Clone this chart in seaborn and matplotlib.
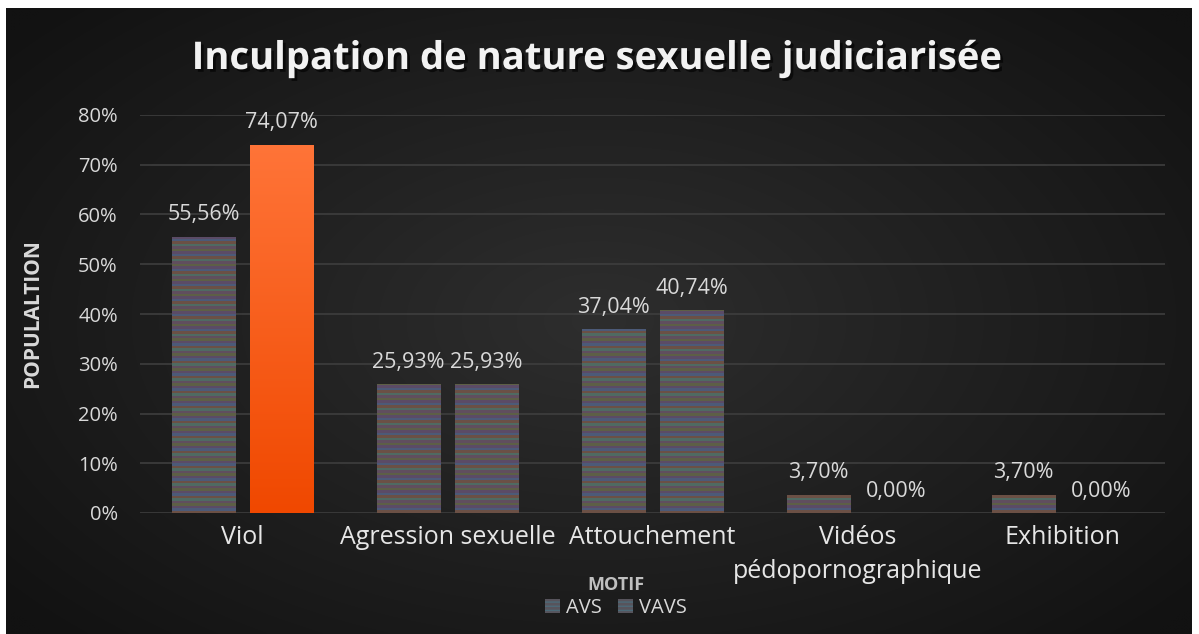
import numpy as np
import pandas as pd
import matplotlib
matplotlib.use("Agg")
import matplotlib.pyplot as plt
import matplotlib.patheffects as pe
from matplotlib.patches import Patch
import seaborn as sns

# ---- data ----
categories = ["Viol", "Agression sexuelle", "Attouchement", "Vidéos\npédopornographique", "Exhibition"]
avs = [55.56, 25.93, 37.04, 3.70, 3.70]
vavs = [74.07, 25.93, 40.74, 0.00, 0.00]
series = ["AVS", "VAVS"]
yticks = [0, 10, 20, 30, 40, 50, 60, 70, 80]
title = "Inculpation de nature sexuelle judiciarisée"
ylabel = "POPULALTION"
legend_title = "MOTIF"

df = pd.DataFrame({
    "cat": categories * 2,
    "val": avs + vavs,
    "serie": [series[0]] * len(categories) + [series[1]] * len(categories),
})

sns.set_style("dark")
plt.rcParams["font.family"] = ["Open Sans", "DejaVu Sans"]

W, H = 1199, 634
fig = plt.figure(figsize=(W / 100, H / 100), dpi=100, facecolor="white")

# background panel with radial gradient
bg = fig.add_axes([6 / W, 0, (1192 - 6) / W, (H - 8) / H])
bg.set_axis_off()
yy, xx = np.mgrid[-1:1:300j, -1:1:600j]
r = np.sqrt((xx / 1.0) ** 2 + (yy / 1.1) ** 2)
r = np.clip(r / 1.3, 0, 1)
c_center = np.array([0x2e, 0x2e, 0x2e]) / 255
c_edge = np.array([0x12, 0x12, 0x12]) / 255
img = c_center[None, None, :] * (1 - r[..., None]) + c_edge[None, None, :] * r[..., None]
bg.imshow(img, aspect="auto", extent=[0, 1, 0, 1], interpolation="bilinear")
bg.set_xlim(0, 1)
bg.set_ylim(0, 1)

ax = fig.add_axes([140 / W, 121 / H, 1025 / W, 398 / H])
ax.set_facecolor("none")

sns.barplot(data=df, x="cat", y="val", hue="serie", ax=ax, width=0.76, gap=0.18,
            palette=["#57545c", "#57545c"], legend=False, linewidth=0, saturation=1)

ax.set_xlim(-0.5, len(categories) - 0.5)
ax.set_ylim(0, 80)
ax.set_yticks(yticks)
ax.set_yticklabels([f"{t}%" for t in yticks])
ax.grid(axis="y", color="#3e3e3e", linewidth=1.2)
ax.grid(axis="x", visible=False)
ax.set_axisbelow(True)
for s in ax.spines.values():
    s.set_visible(False)
ax.tick_params(axis="y", length=0, pad=16, labelsize=14.5, labelcolor="#d9d9d9")
ax.tick_params(axis="x", length=0, pad=9, labelsize=18, labelcolor="#e6e6e6")
for lab in ax.get_xticklabels():
    lab.set_linespacing(1.45)
ax.set_xlabel("")
ax.set_ylabel(ylabel, fontsize=15, fontweight="bold", color="#d9d9d9")
ax.yaxis.set_label_coords(-0.095, 0.5)

# stripe texture
stripe_cols = np.array([
    [0x5d, 0x5f, 0x46], [0x5b, 0x4b, 0x66], [0x4c, 0x5a, 0x78],
    [0x6b, 0x50, 0x45], [0x4f, 0x6a, 0x62], [0x60, 0x4e, 0x5e],
]) / 255
nrows = 160
stripes = np.array([stripe_cols[i % len(stripe_cols)] for i in range(nrows)])[:, None, :]
yy2 = np.linspace(0, 1, 200)[:, None]
top_c = np.array([0xff, 0x74, 0x38]) / 255
bot_c = np.array([0xf0, 0x48, 0x00]) / 255
orange = (top_c * (1 - yy2) + bot_c * yy2)[:, None, :].reshape(200, 1, 3)

max_val = max(max(avs), max(vavs))
for cont, vals in zip(ax.containers, [avs, vavs]):
    for patch, v in zip(cont, vals):
        x0 = patch.get_x()
        w = patch.get_width()
        if v > 0:
            if v == max_val:
                im = ax.imshow(orange, extent=[x0, x0 + w, 0, v], aspect="auto",
                               interpolation="bilinear", zorder=2)
            else:
                im = ax.imshow(stripes, extent=[x0, x0 + w, 0, 80], aspect="auto",
                               interpolation="nearest", zorder=2)
            im.set_clip_path(patch)
        ax.annotate(f"{v:.2f}".replace(".", ",") + "%", (x0 + w / 2, v),
                    xytext=(0, 8), textcoords="offset points", ha="center", va="bottom",
                    fontsize=15.5, color="#d9d9d9", zorder=3)
ax.set_xlim(-0.5, len(categories) - 0.5)
ax.set_ylim(0, 80)

# title
fig.text(598 / W, 1 - 59 / H, title, ha="center", va="center", fontsize=27.5,
         fontweight="bold", color="#f2f2f2", family=["Open Sans", "DejaVu Sans"],
         path_effects=[pe.withSimplePatchShadow(offset=(2, -2), shadow_rgbFace="black", alpha=0.6)])

# legend
handles = [Patch(facecolor="#57545c", edgecolor="#4c6a78", hatch="----", linewidth=0, label=s)
           for s in series]
leg = fig.legend(handles=handles, loc="upper center", bbox_to_anchor=(616 / W, 1 - 566 / H),
                 ncol=2, frameon=False, title=legend_title, fontsize=14.5,
                 handlelength=0.75, handleheight=0.75, handletextpad=0.3, columnspacing=0.8,
                 borderpad=0, labelspacing=0.2)
leg.get_title().set_fontweight("bold")
leg.get_title().set_color("#bfbfbf")
leg.get_title().set_fontsize(13)
for t in leg.get_texts():
    t.set_color("#d9d9d9")

fig.savefig("out.png", dpi=100, facecolor="white")
